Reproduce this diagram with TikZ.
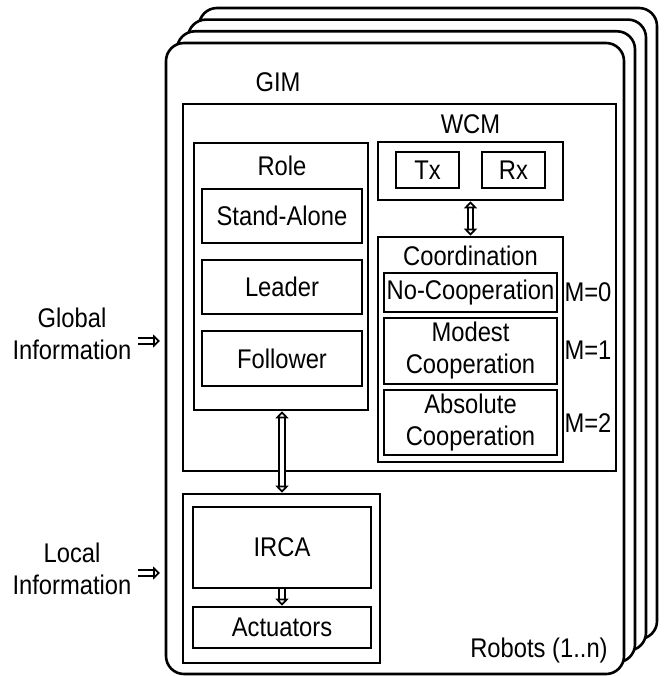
\documentclass[tikz,border=0pt]{standalone}
\usepackage{fontspec}
\setmainfont{Liberation Sans}[FakeStretch=0.88]
\usetikzlibrary{arrows.meta}
\begin{document}
\begin{tikzpicture}[x=1pt,y=-1pt,
  font=\fontsize{27}{32}\selectfont,
  card/.style={draw, fill=white, line width=2.6pt, rounded corners=18pt},
  box/.style={draw, line width=2.6pt, inner sep=0pt, fill=white},
  txt/.style={inner sep=0pt, align=center},
  conn/.style={double, double distance=3.5pt, line width=1.8pt,
    {Triangle[open, length=7pt, width=13pt]}-{Triangle[open, length=7pt, width=13pt]}},
  oneway/.style={double, double distance=3.5pt, line width=1.8pt,
    -{Triangle[open, length=7pt, width=13pt]}}]
\useasboundingbox (0,0) rectangle (664,676);
% stacked robot cards (back to front)
\draw[card] (199,8) rectangle (657,639);
\draw[card] (188,19.6) rectangle (646,650.6);
\draw[card] (177,31.3) rectangle (635,662.3);
\draw[card] (166,43) rectangle (624,674);
\node[txt] (robots) at (539,651) {Robots (1..n)};
% GIM
\node[txt] (gimlabel) at (278,82) {GIM};
\node[box, minimum width=433pt, minimum height=367pt] (gim) at (399.5,287.5) {};
% Role
\node[box, minimum width=174pt, minimum height=267pt] (role) at (281,276.5) {};
\node[txt] (rolelabel) at (282,166) {Role};
\node[box, minimum width=160pt, minimum height=54pt] (stand) at (282,216) {Stand-Alone};
\node[box, minimum width=160pt, minimum height=54pt] (leader) at (282,287) {Leader};
\node[box, minimum width=160pt, minimum height=55pt] (follower) at (282,358.5) {Follower};
% WCM
\node[txt] (wcmlabel) at (470.5,124) {WCM};
\node[box, minimum width=185pt, minimum height=58pt] (wcm) at (470.5,171) {};
\node[box, minimum width=63pt, minimum height=36pt] (tx) at (427.5,170) {Tx};
\node[box, minimum width=63pt, minimum height=36pt] (rx) at (513.5,170) {Rx};
% Coordination
\node[box, minimum width=185pt, minimum height=225pt] (coord) at (470.5,349.5) {};
\node[txt] (coordlabel) at (470.5,256) {Coordination};
\node[box, minimum width=173pt, minimum height=39pt] (nocoop) at (470.5,292.5) {No-Cooperation};
\node[box, minimum width=173pt, minimum height=66pt, align=center] (modest) at (470.5,351) {Modest\\Cooperation};
\node[box, minimum width=173pt, minimum height=65pt, align=center] (absolute) at (470.5,422.5) {Absolute\\Cooperation};
\node[txt] (m0) at (588,292) {M=0};
\node[txt] (m1) at (588,350) {M=1};
\node[txt] (m2) at (588,423) {M=2};
% lower block
\node[box, minimum width=197pt, minimum height=169pt] (lower) at (281.5,578.5) {};
\node[box, minimum width=178pt, minimum height=81pt] (irca) at (282,547.5) {IRCA};
\node[box, minimum width=178pt, minimum height=41pt] (act) at (282,627.5) {Actuators};
% connectors
\draw[conn] (wcm.south) -- (coord.north);
\draw[conn] (role.south -| stand.south) -- (lower.north -| stand.south);
\draw[oneway] (irca.south) -- (act.north);
% external inputs
\node[txt] (global) at (72,334) {Global\\Information};
\node[txt] (local) at (72,569) {Local\\Information};
\coordinate (gs) at (138,341);
\coordinate (ge) at (160,341);
\coordinate (ls) at (138,573);
\coordinate (le) at (160,573);
\draw[oneway] (gs) -- (ge);
\draw[oneway] (ls) -- (le);
\end{tikzpicture}
\end{document}
